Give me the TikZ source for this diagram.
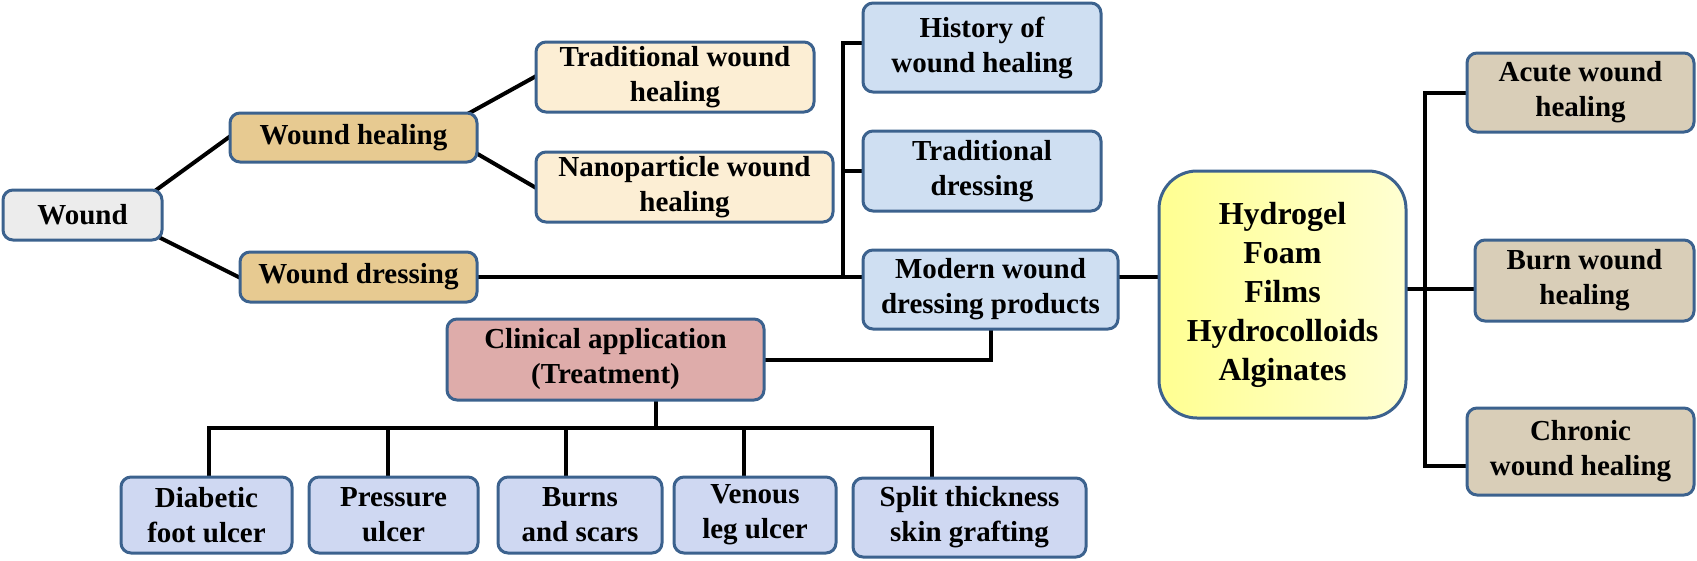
\documentclass[tikz,border=0pt]{standalone}
\usepackage{fontspec}
\setmainfont{Liberation Serif}
\pgfdeclarelayer{background}
\pgfsetlayers{background,main}
\definecolor{bordercol}{RGB}{60,98,142}
\definecolor{woundfill}{RGB}{236,236,236}
\definecolor{tanfill}{RGB}{231,202,145}
\definecolor{creamfill}{RGB}{252,238,212}
\definecolor{bluefill}{RGB}{207,223,242}
\definecolor{pinkfill}{RGB}{222,172,170}
\definecolor{lavfill}{RGB}{207,216,242}
\definecolor{linenfill}{RGB}{217,206,184}
\definecolor{yelA}{RGB}{255,255,145}
\definecolor{yelB}{RGB}{255,255,210}
\tikzset{
  box/.style={draw=bordercol, line width=3pt, rounded corners=10pt, inner sep=0pt,
    align=center, font=\fontsize{29}{35}\selectfont\bfseries, text=black},
  bx/.style n args={2}{box, minimum width=#1, minimum height=#2},
  conn/.style={draw=black, line width=4pt, line cap=rect, line join=miter},
}
\begin{document}
\begin{tikzpicture}[x=1pt,y=-1pt]
\useasboundingbox (0,0) rectangle (1697,560);

\node[bx={159pt}{50pt}, fill=woundfill] (wound) at (82.5,215) {Wound};
\node[bx={247pt}{49pt}, fill=tanfill] (wh) at (353.5,137.5) {Wound healing};
\node[bx={237pt}{50pt}, fill=tanfill] (wd) at (358.5,277) {Wound dressing};
\node[bx={278pt}{70pt}, fill=creamfill] (trad) at (675,77) {Traditional wound\\healing};
\node[bx={297pt}{70pt}, fill=creamfill] (nano) at (684.5,187) {Nanoparticle wound\\healing};
\node[bx={238pt}{89pt}, fill=bluefill] (hist) at (982,47.5) {History of\\wound healing};
\node[bx={238pt}{80pt}, fill=bluefill] (tdr) at (982,171) {Traditional\\dressing};
\node[bx={255pt}{79pt}, fill=bluefill] (modern) at (990.5,289.5) {Modern wound\\dressing products};
\node[box, minimum width=247pt, minimum height=247pt, rounded corners=38pt,
  left color=yelA, right color=yelB, font=\fontsize{32}{39}\selectfont\bfseries]
  (hyd) at (1282.5,294.5) {Hydrogel\\Foam\\Films\\Hydrocolloids\\Alginates};
\node[bx={227pt}{79pt}, fill=linenfill] (acute) at (1580.5,92.5) {Acute wound\\healing};
\node[bx={219pt}{81pt}, fill=linenfill] (burn) at (1584.5,280.5) {Burn wound\\healing};
\node[bx={227pt}{87pt}, fill=linenfill] (chronic) at (1580.5,451.5) {Chronic\\wound healing};
\node[bx={317pt}{81pt}, fill=pinkfill] (clin) at (605.5,359.5) {Clinical application\\(Treatment)};
\node[bx={171pt}{76pt}, fill=lavfill] (d1) at (206.5,515) {Diabetic\\foot ulcer};
\node[bx={169pt}{76pt}, fill=lavfill] (d2) at (393.5,515) {Pressure\\ulcer};
\node[bx={164pt}{76pt}, fill=lavfill] (d3) at (580,515) {Burns\\and scars};
\node[bx={162pt}{76pt}, fill=lavfill] (d4) at (755,515) {Venous\\leg ulcer};
\node[bx={233pt}{79pt}, fill=lavfill] (d5) at (969.5,517.5) {Split thickness\\skin grafting};

\coordinate (vx) at (843,0);
\coordinate (rv) at (1425,0);
\coordinate (bar) at (0,428);

\begin{pgfonlayer}{background}
\draw[conn] ([xshift=-8pt,yshift=-2pt]wound.north east) -- (wh.west);
\draw[conn] ([xshift=-8pt,yshift=6pt]wound.south east) -- (wd.west);
\draw[conn] ([xshift=-10pt,yshift=-2pt]wh.north east) -- (trad.west);
\draw[conn] ([yshift=9pt]wh.south east) -- (nano.west);
\draw[conn] (wd.east) -- (wd.east -| modern.west);
\coordinate (ht) at ([yshift=5pt]hist.west);
\draw[conn] (ht) -- (ht -| vx) -- (vx |- wd.east);
\draw[conn] (tdr.west) -- (tdr.west -| vx);
\draw[conn] (modern.east |- wd.east) -- (hyd.west |- wd.east);
\coordinate (chrt) at ([yshift=-14pt]chronic.west);
\draw[conn] (acute.west) -- (acute.west -| rv) -- (rv |- chrt) -- (chrt);
\coordinate (hb) at ([yshift=-8pt]burn.west);
\draw[conn] (hb -| hyd.east) -- (hb);
\draw[conn] (clin.east) -| (modern.south);
\coordinate (cd) at ([xshift=50pt]clin.south);
\draw[conn] (cd) -- (cd |- bar);
\coordinate (t1) at ([xshift=2.5pt]d1.north);
\coordinate (t2) at ([xshift=-5.5pt]d2.north);
\coordinate (t3) at ([xshift=-14pt]d3.north);
\coordinate (t4) at ([xshift=-11pt]d4.north);
\coordinate (t5) at ([xshift=-37.5pt]d5.north);
\draw[conn] (t1) -- (t1 |- bar) -- (t5 |- bar) -- (t5);
\draw[conn] (t2) -- (t2 |- bar);
\draw[conn] (t3) -- (t3 |- bar);
\draw[conn] (t4) -- (t4 |- bar);
\end{pgfonlayer}
\end{tikzpicture}
\end{document}
